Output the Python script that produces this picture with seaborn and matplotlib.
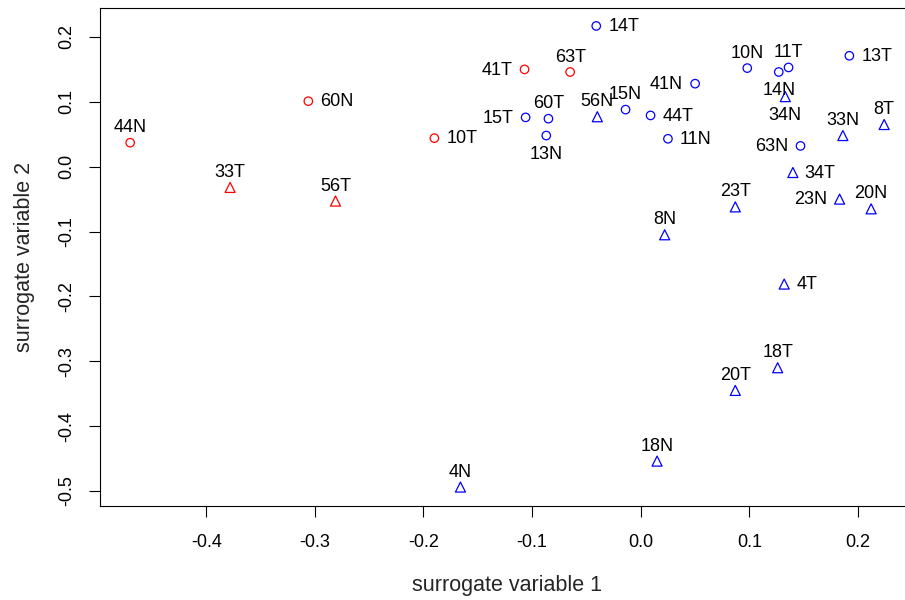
import matplotlib
matplotlib.use("Agg")
import matplotlib.pyplot as plt
import seaborn as sns
import pandas as pd

# sample names and their two surrogate variables
samples = ["44N", "60N", "10T", "41T", "63T", "33T", "56T",
           "14T", "15T", "60T", "13N", "15N", "44T", "41N", "11N",
           "10N", "11T", "14N", "13T", "63N",
           "56N", "34N", "33N", "8T", "34T", "23T", "23N", "20N",
           "8N", "4T", "18T", "20T", "18N", "4N"]
sv1 = [-0.470, -0.306, -0.190, -0.107, -0.065, -0.378, -0.281,
       -0.041, -0.106, -0.085, -0.087, -0.014, 0.009, 0.050, 0.025,
       0.098, 0.136, 0.127, 0.192, 0.147,
       -0.040, 0.133, 0.186, 0.224, 0.140, 0.087, 0.183, 0.212,
       0.022, 0.132, 0.126, 0.087, 0.015, -0.166]
sv2 = [0.037, 0.101, 0.044, 0.150, 0.146, -0.032, -0.053,
       0.217, 0.076, 0.074, 0.048, 0.088, 0.079, 0.128, 0.043,
       0.152, 0.153, 0.146, 0.171, 0.032,
       0.077, 0.108, 0.048, 0.065, -0.009, -0.062, -0.050, -0.065,
       -0.105, -0.181, -0.310, -0.345, -0.454, -0.494]
group = ["red"] * 7 + ["blue"] * 27
shape = (["circle"] * 5 + ["triangle"] * 2 + ["circle"] * 13
         + ["triangle"] * 14)
# where each sample name sits relative to its point
label_pos = ["above", "right", "right", "left", "above", "above", "above",
             "right", "left", "above", "below", "above", "right", "left", "right",
             "above", "above", "below", "right", "left",
             "above", "below", "above", "above", "right", "above", "left", "above",
             "above", "right", "above", "above", "above", "above"]

df = pd.DataFrame({"sample": samples, "sv1": sv1, "sv2": sv2,
                   "group": group, "shape": shape, "pos": label_pos})

sns.set_style("ticks")
plt.rcParams["font.family"] = ["Liberation Sans", "DejaVu Sans"]
plt.rcParams["font.size"] = 13

fig = plt.figure(figsize=(9.05, 6.0), dpi=100)
ax = fig.add_axes([100 / 905, 1 - 505.5 / 600, 814.3 / 905, 498 / 600])

sns.scatterplot(data=df, x="sv1", y="sv2", hue="group", style="shape",
                size="shape", sizes={"circle": 37, "triangle": 52},
                palette={"red": "#FF0000", "blue": "#0000FF"},
                markers={"circle": "o", "triangle": "^"},
                linewidth=0.9, legend=False, ax=ax)

# open symbols like base R
for pc in ax.collections:
    fc = pc.get_facecolors()
    pc.set_edgecolors(fc)
    pc.set_facecolors("none")

offsets = {"above": (0, 7.5, "center"), "below": (0, -16.8, "center"),
           "left": (-8.6, -3.8, "right"), "right": (8.6, -3.8, "left")}
for _, row in df.iterrows():
    dx, dy, ha = offsets[row["pos"]]
    ax.annotate(row["sample"], (row["sv1"], row["sv2"]), xytext=(dx, dy),
                textcoords="offset points", ha=ha, va="baseline",
                fontsize=13, color="black")

# R style 4% padding
xr = max(sv1) - min(sv1)
yr = max(sv2) - min(sv2)
ax.set_xlim(min(sv1) - 0.04 * xr, max(sv1) + 0.04 * xr)
ax.set_ylim(min(sv2) - 0.04 * yr, max(sv2) + 0.04 * yr)

ax.set_xticks([-0.4, -0.3, -0.2, -0.1, 0.0, 0.1, 0.2])
ax.set_yticks([-0.5, -0.4, -0.3, -0.2, -0.1, 0.0, 0.1, 0.2])
ax.set_xticklabels([f"{v:.1f}" for v in ax.get_xticks()])
ax.set_yticklabels([f"{v:.1f}" for v in ax.get_yticks()],
                   rotation=90, va="center")
ax.tick_params(axis="x", length=8, width=0.8, pad=12.5, colors="black",
               labelsize=13)
ax.tick_params(axis="y", length=8, width=0.8, pad=10, colors="black",
               labelsize=13)
for sp in ax.spines.values():
    sp.set_linewidth(0.8)
    sp.set_color("black")

ax.set_xlabel("surrogate variable 1", fontsize=15.5, labelpad=17)
ax.set_ylabel("surrogate variable 2", fontsize=15.5, labelpad=16.5)

plt.savefig("out.png", dpi=100)
